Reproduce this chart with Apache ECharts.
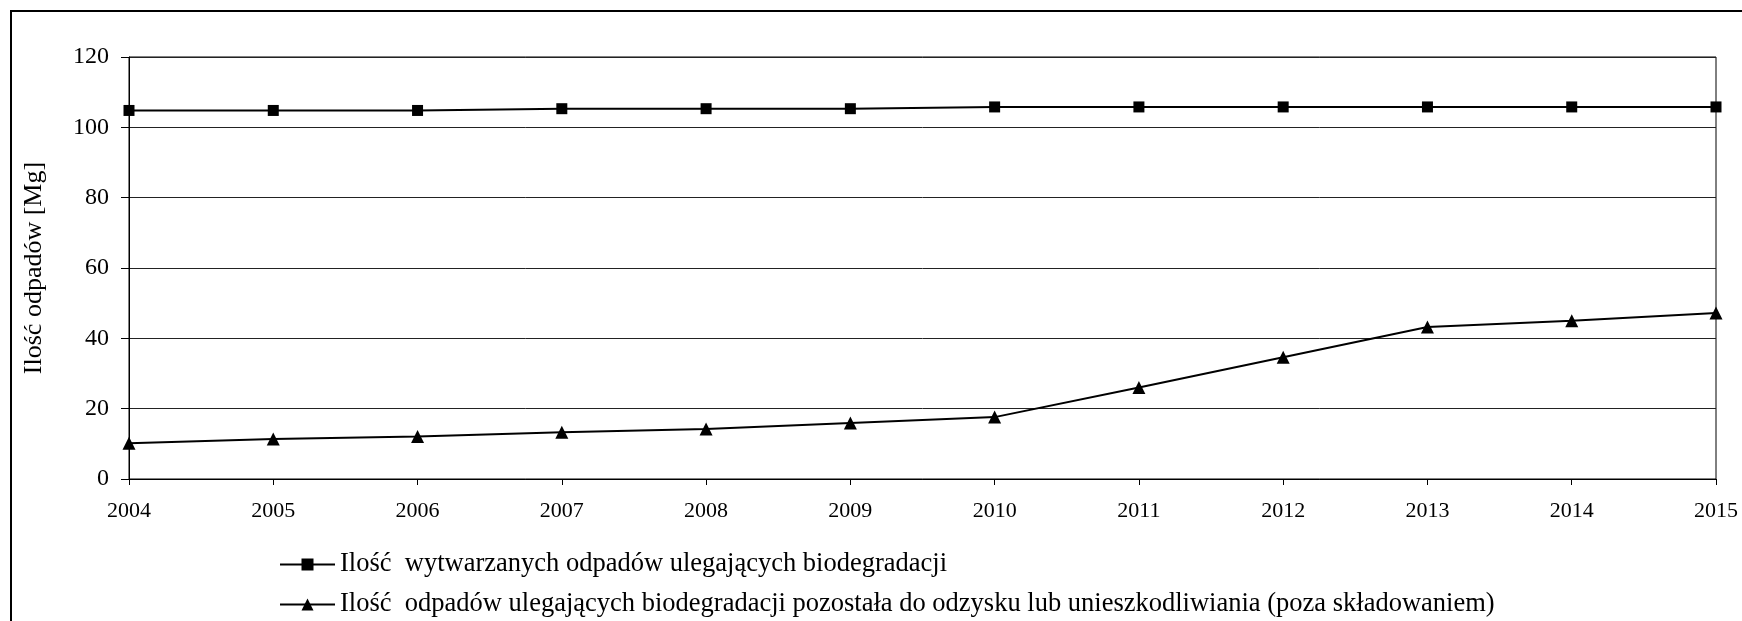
<!DOCTYPE html>
<html>
<head>
<meta charset="utf-8">
<script src="https://cdn.jsdelivr.net/npm/echarts@6/dist/echarts.min.js"></script>
<style>html,body{margin:0;padding:0;background:#fff;}#c{width:1742px;height:621px;}</style>
</head>
<body>
<div id="c"></div>
<script>
const years = ['2004','2005','2006','2007','2008','2009','2010','2011','2012','2013','2014','2015'];
const wytwarzane = [104.8, 104.8, 104.8, 105.3, 105.3, 105.3, 105.8, 105.8, 105.8, 105.8, 105.8, 105.8];
const pozostala = [10.2, 11.4, 12.1, 13.3, 14.2, 15.9, 17.6, 26.0, 34.6, 43.2, 45.0, 47.2];
const seriesNames = ['Ilość  wytwarzanych odpadów ulegających biodegradacji',
  'Ilość  odpadów ulegających biodegradacji pozostała do odzysku lub unieszkodliwiania (poza składowaniem)'];
const yTitle = 'Ilość odpadów [Mg]';

const font = '"Liberation Serif", "Times New Roman", serif';
const legendText = {fontFamily: font, fontSize: 26.5, color: '#000'};
const legendCommon = {left: 279, padding: 0, itemWidth: 55, itemHeight: 15, textStyle: legendText,
  lineStyle: {width: 2, color: '#000'}, itemStyle: {color: '#000'}};
const chart = echarts.init(document.getElementById('c'), null, {renderer: 'canvas'});
chart.setOption({
  animation: false,
  backgroundColor: '#fff',
  textStyle: {fontFamily: font, color: '#000'},
  graphic: [{
    type: 'rect', shape: {x: 11, y: 11, width: 1800, height: 700},
    style: {fill: 'none', stroke: '#000', lineWidth: 2}, z: 100
  }],
  grid: {left: 129, right: 26, top: 57, bottom: 142, show: true, borderColor: '#000', borderWidth: 1},
  legend: [
    Object.assign({}, legendCommon, {top: 551, data: [seriesNames[0]]}),
    Object.assign({}, legendCommon, {top: 591, data: [seriesNames[1]]})
  ],
  xAxis: {
    type: 'category', data: years, boundaryGap: false,
    axisLine: {lineStyle: {color: '#000', width: 1}},
    axisTick: {show: true, length: 6, lineStyle: {color: '#000'}},
    axisLabel: {fontFamily: font, fontSize: 22, color: '#000', margin: 21},
    splitLine: {show: false}
  },
  yAxis: {
    type: 'value', min: 0, max: 120, interval: 20,
    name: yTitle, nameLocation: 'middle', nameGap: 82,
    nameTextStyle: {fontFamily: font, fontSize: 26, color: '#000'},
    axisLine: {show: true, lineStyle: {color: '#000', width: 1}},
    axisTick: {show: true, length: 8, inside: false, lineStyle: {color: '#000'}},
    axisLabel: {fontFamily: font, fontSize: 24, color: '#000', margin: 20},
    splitLine: {show: true, lineStyle: {color: '#222', width: 1}}
  },
  series: [
    {name: seriesNames[0], type: 'line', data: wytwarzane, symbol: 'rect', symbolSize: 11,
     lineStyle: {color: '#000', width: 2}, itemStyle: {color: '#000'}},
    {name: seriesNames[1], type: 'line', data: pozostala, symbol: 'triangle', symbolSize: 13,
     lineStyle: {color: '#000', width: 2}, itemStyle: {color: '#000'}}
  ]
});
</script>
</body>
</html>
